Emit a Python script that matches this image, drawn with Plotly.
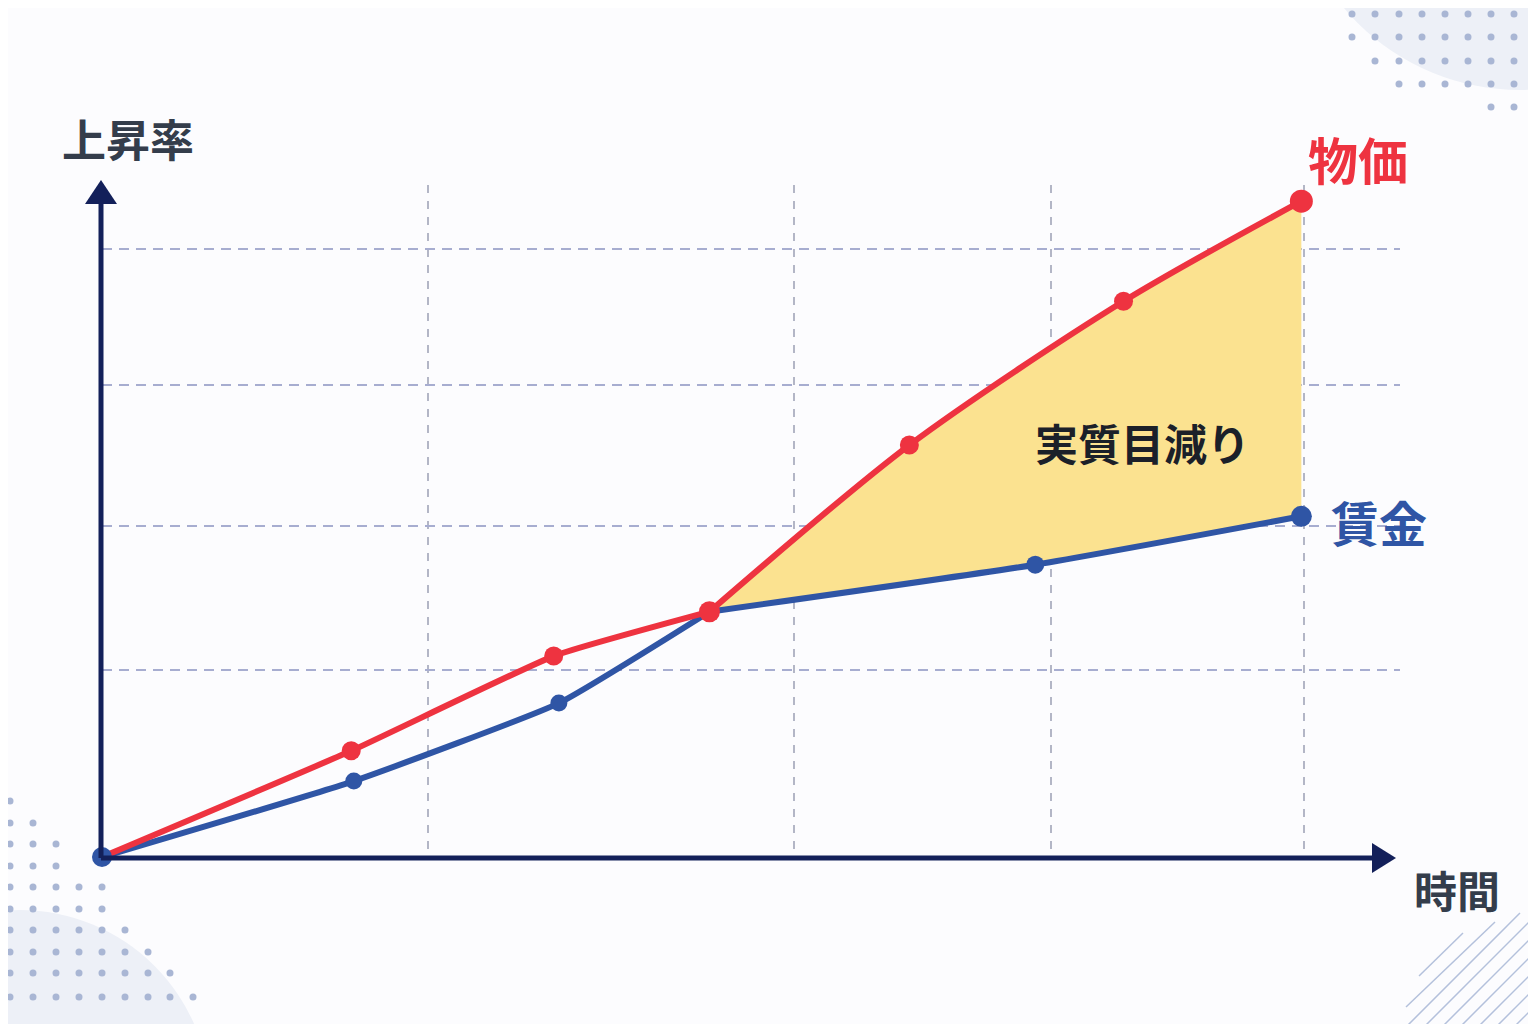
import plotly.graph_objects as go

# 物価 (prices) and 賃金 (wages)
x_price = [0, 1.92, 3.48, 4.68, 6.22, 7.87, 9.24]
y_price = [0, 1.58, 2.99, 3.65, 6.13, 8.27, 9.76]
x_wage = [0, 1.94, 3.52, 4.68, 7.19, 9.24]
y_wage = [0, 1.13, 2.29, 3.65, 4.35, 5.07]

# index where the two lines meet and the gap starts
split = 3

grid_x = [2.51, 5.33, 7.31, 9.26]
grid_y = [2.78, 4.93, 7.02, 9.05]

label_y = '上昇率'
label_x = '時間'
label_price = '物価'
label_wage = '賃金'
label_gap = '実質目減り'

RED = '#ee3340'
BLUE = '#2f55a5'
NAVY = '#13205a'
FILL = '#fbe290'
DECO = '#a9b6d4'
FONT = 'Noto Sans CJK JP'

# the page puts the figure 8px in from the corner
OFF = 8
# plot area in page pixels
X0, W, Y0, H = 102, 1298, 857, 672


def px(x):
    return (x - X0) / W


def py(y):
    return (Y0 - y) / H


fig = go.Figure()

# gap fill between wage and price after they meet
fig.add_trace(go.Scatter(x=x_wage[split:], y=y_wage[split:], mode='lines',
                         line=dict(width=0, shape='spline', smoothing=0.5, color=BLUE),
                         hoverinfo='skip', showlegend=False))
fig.add_trace(go.Scatter(x=x_price[split:], y=y_price[split:], mode='lines',
                         line=dict(width=0, shape='spline', smoothing=0.8, color=RED),
                         fill='tonexty', fillcolor=FILL,
                         hoverinfo='skip', showlegend=False))

# each line drawn in two parts, so the bend at the crossing stays sharp
segments = [
    (x_wage[:split + 1], y_wage[:split + 1], BLUE, 0.4),
    (x_wage[split:], y_wage[split:], BLUE, 0.5),
    (x_price[:split + 1], y_price[:split + 1], RED, 0.4),
    (x_price[split:], y_price[split:], RED, 0.8),
]
for xs, ys, col, sm in segments:
    fig.add_trace(go.Scatter(x=xs, y=ys, mode='lines',
                             line=dict(width=6, shape='spline', smoothing=sm, color=col),
                             showlegend=False))

wage_sizes = [0, 17, 17, 0, 18, 21]
fig.add_trace(go.Scatter(x=x_wage, y=y_wage, mode='markers',
                         marker=dict(size=wage_sizes, color=BLUE, opacity=1, line=dict(width=0)),
                         cliponaxis=False, showlegend=False))
price_sizes = [0, 19, 19, 21, 19, 19, 23]
fig.add_trace(go.Scatter(x=x_price, y=y_price, mode='markers',
                         marker=dict(size=price_sizes, color=RED, opacity=1, line=dict(width=0)),
                         cliponaxis=False, showlegend=False))
fig.add_trace(go.Scatter(x=x_wage[:1], y=y_wage[:1], mode='markers',
                         marker=dict(size=20, color=BLUE, opacity=1, line=dict(width=0)),
                         cliponaxis=False, showlegend=False))

shapes = []

# background decorations
shapes.append(dict(type='circle', xref='paper', yref='paper', layer='below',
                   x0=px(1290), x1=px(1750), y0=py(90), y1=py(-370),
                   fillcolor='#edf0f7', line=dict(width=0)))
shapes.append(dict(type='circle', xref='paper', yref='paper', layer='below',
                   x0=px(-170), x1=px(210), y0=py(1290), y1=py(910),
                   fillcolor='#edf0f7', line=dict(width=0)))

dot_cols = [1352, 1375, 1399, 1422, 1445, 1468, 1491, 1514]
dot_rows = [(14, 0), (37, 0), (61, 1), (84, 2), (107, 6)]
for yy, start in dot_rows:
    for xx in dot_cols[start:]:
        shapes.append(dict(type='circle', xref='paper', yref='paper', layer='below',
                           x0=px(xx - 3.5), x1=px(xx + 3.5), y0=py(yy + 3.5), y1=py(yy - 3.5),
                           fillcolor=DECO, line=dict(width=0)))

bl_cols = [10, 33, 56, 79, 102, 125, 148, 170, 193]
bl_rows = [(801, 1), (823, 2), (844, 3), (866, 3), (887, 5), (909, 5),
           (930, 6), (952, 7), (973, 8), (997, 9)]
for yy, n in bl_rows:
    for xx in bl_cols[:n]:
        shapes.append(dict(type='circle', xref='paper', yref='paper', layer='below',
                           x0=px(xx - 3.5), x1=px(xx + 3.5), y0=py(yy + 3.5), y1=py(yy - 3.5),
                           fillcolor=DECO, line=dict(width=0)))

hatch = [((1419, 976), (1463, 933)), ((1406, 1007), (1495, 922))]
for k in range(8):
    xb = 1407 + 18 * k
    hatch.append(((xb, 1026), (xb + 113, 913)))
for (a, b) in hatch:
    shapes.append(dict(type='line', xref='paper', yref='paper', layer='below',
                       x0=px(a[0]), y0=py(a[1]), x1=px(b[0]), y1=py(b[1]),
                       line=dict(color='#b4c1dc', width=1.5)))

# axes with arrowheads
shapes.append(dict(type='line', xref='paper', yref='paper',
                   x0=px(101), y0=py(858), x1=px(1378), y1=py(858),
                   line=dict(color=NAVY, width=5)))
shapes.append(dict(type='line', xref='paper', yref='paper',
                   x0=px(101), y0=py(858), x1=px(101), y1=py(200),
                   line=dict(color=NAVY, width=5)))
shapes.append(dict(type='path', xref='paper', yref='paper',
                   path=f'M {px(1372)} {py(843)} L {px(1396)} {py(858)} L {px(1372)} {py(873)} Z',
                   fillcolor=NAVY, line=dict(width=0)))
shapes.append(dict(type='path', xref='paper', yref='paper',
                   path=f'M {px(85)} {py(204)} L {px(101)} {py(180)} L {px(117)} {py(204)} Z',
                   fillcolor=NAVY, line=dict(width=0)))


def label(text, x, y, size, color):
    return dict(text=text, xref='paper', yref='paper', x=px(x), y=py(y),
                xanchor='center', yanchor='middle', showarrow=False,
                font=dict(family=FONT, size=size, color=color, weight='bold'))


annotations = [
    label(label_y, 128, 138, 44, '#343d4b'),
    label(label_x, 1457, 889, 43, '#343d4b'),
    label(label_price, 1358, 158, 50, RED),
    label(label_wage, 1379, 521, 48, BLUE),
    label(label_gap, 1142, 442, 43, '#1b2029'),
]

fig.update_layout(
    width=1536, height=1024,
    margin=dict(l=X0 - OFF, r=1536 - X0 - W + OFF, t=Y0 - H - OFF, b=1024 - Y0 + OFF),
    paper_bgcolor='#fcfcfe', plot_bgcolor='rgba(0,0,0,0)',
    shapes=shapes, annotations=annotations,
    showlegend=False,
)
fig.update_xaxes(range=[0, 10], tickvals=grid_x, showticklabels=False,
                 showgrid=True, gridcolor='#b3b6c6', gridwidth=1.5, griddash='8px,8px',
                 zeroline=False, showline=False, ticks='', fixedrange=True)
fig.update_yaxes(range=[0, 10], tickvals=grid_y, showticklabels=False,
                 showgrid=True, gridcolor='#a7add0', gridwidth=1.5, griddash='10px,7px',
                 zeroline=False, showline=False, ticks='', fixedrange=True)

fig.write_html('out.html')
